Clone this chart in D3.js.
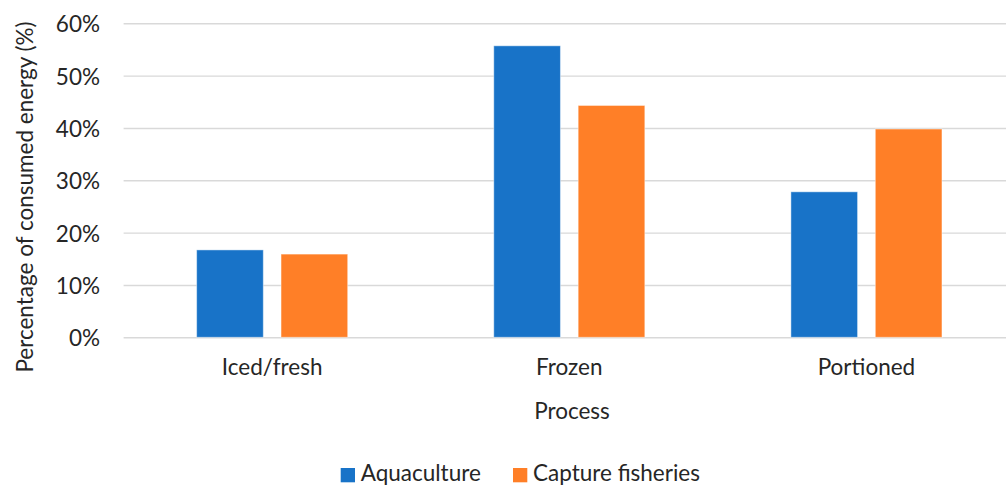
<!DOCTYPE html>
<html>
<head>
<meta charset="utf-8">
<script src="https://cdn.jsdelivr.net/npm/d3@7"></script>
<style>
  html, body { margin: 0; padding: 0; background: #fff; }
  svg { display: block; }
  text { font-family: Lato, "Open Sans", sans-serif; fill: #262626; }
</style>
</head>
<body>
<svg id="chart" width="1006" height="486"></svg>
<script>
const categories = ["Iced/fresh", "Frozen", "Portioned"];
const series = ["Aquaculture", "Capture fisheries"];
const aquaculture = [0.167, 0.557, 0.278];
const captureFisheries = [0.159, 0.443, 0.398];
const yTicks = [0, 0.1, 0.2, 0.3, 0.4, 0.5, 0.6];
const colors = ["#1873C8", "#FF7F27"];

const values = [aquaculture, captureFisheries];
const svg = d3.select("#chart");
const fs = "22.5px";

const plotLeft = 123.6, plotRight = 1015, plotTop = 23.3, plotBottom = 337.3;

const y = d3.scaleLinear().domain([0, 0.6]).range([plotBottom, plotTop]);
const x0 = d3.scaleBand().domain(categories).range([plotLeft, plotRight])
  .paddingInner(0.4916).paddingOuter(0.2458);
const x1 = d3.scaleBand().domain(series).range([0, x0.bandwidth()]).paddingInner(0.21).paddingOuter(0);

// gridlines
const grid = svg.append("g")
  .attr("transform", `translate(${plotLeft},0)`)
  .call(d3.axisLeft(y).tickValues(yTicks).tickSize(-(plotRight - plotLeft)).tickFormat(""));
grid.select(".domain").remove();
grid.selectAll(".tick line").attr("stroke", "#d9d9d9").attr("stroke-width", 1.4);

// y tick labels
const yAxis = svg.append("g")
  .attr("transform", `translate(100,0)`)
  .call(d3.axisLeft(y).tickValues(yTicks).tickSize(0).tickPadding(0).tickFormat(d3.format(".0%")));
yAxis.select(".domain").remove();
yAxis.selectAll(".tick text")
  .attr("font-size", fs).attr("text-anchor", "end").attr("dy", "0.38em")
  .style("font-family", "Lato, sans-serif").attr("fill", "#262626");

// bars
const groups = svg.append("g").selectAll("g")
  .data(categories).join("g")
  .attr("transform", d => `translate(${x0(d)},0)`);
groups.selectAll("rect")
  .data((d, i) => series.map((s, j) => ({ s, j, v: values[j][i] })))
  .join("rect")
  .attr("x", d => x1(d.s))
  .attr("width", x1.bandwidth())
  .attr("y", d => y(d.v))
  .attr("height", d => y(0) - y(d.v))
  .attr("fill", d => colors[d.j])
  .attr("stroke", "rgba(255,255,255,0.45)")
  .attr("stroke-width", 1);

// x labels
const xAxis = svg.append("g")
  .attr("transform", `translate(0,${plotBottom})`)
  .call(d3.axisBottom(x0).tickSize(0).tickPadding(0));
xAxis.select(".domain").remove();
xAxis.selectAll(".tick text")
  .attr("font-size", fs).attr("y", 38).attr("dy", 0)
  .style("font-family", "Lato, sans-serif").attr("fill", "#262626");

// axis titles
svg.append("text")
  .attr("x", 572).attr("y", 419)
  .attr("text-anchor", "middle").attr("font-size", fs)
  .text("Process");
svg.append("text")
  .attr("transform", "translate(33,197) rotate(-90)")
  .attr("text-anchor", "middle").attr("font-size", fs)
  .text("Percentage of consumed energy (%)");

// legend
const legendItems = [{ s: series[0], x: 340.7 }, { s: series[1], x: 513 }];
const legend = svg.append("g").selectAll("g").data(legendItems).join("g")
  .attr("transform", d => `translate(${d.x},0)`);
legend.append("rect")
  .attr("x", 0).attr("y", 468).attr("width", 14.3).attr("height", 14.3)
  .attr("fill", (d, i) => colors[i]);
legend.append("text")
  .attr("x", 20).attr("y", 481).attr("font-size", fs)
  .text(d => d.s);
</script>
</body>
</html>
